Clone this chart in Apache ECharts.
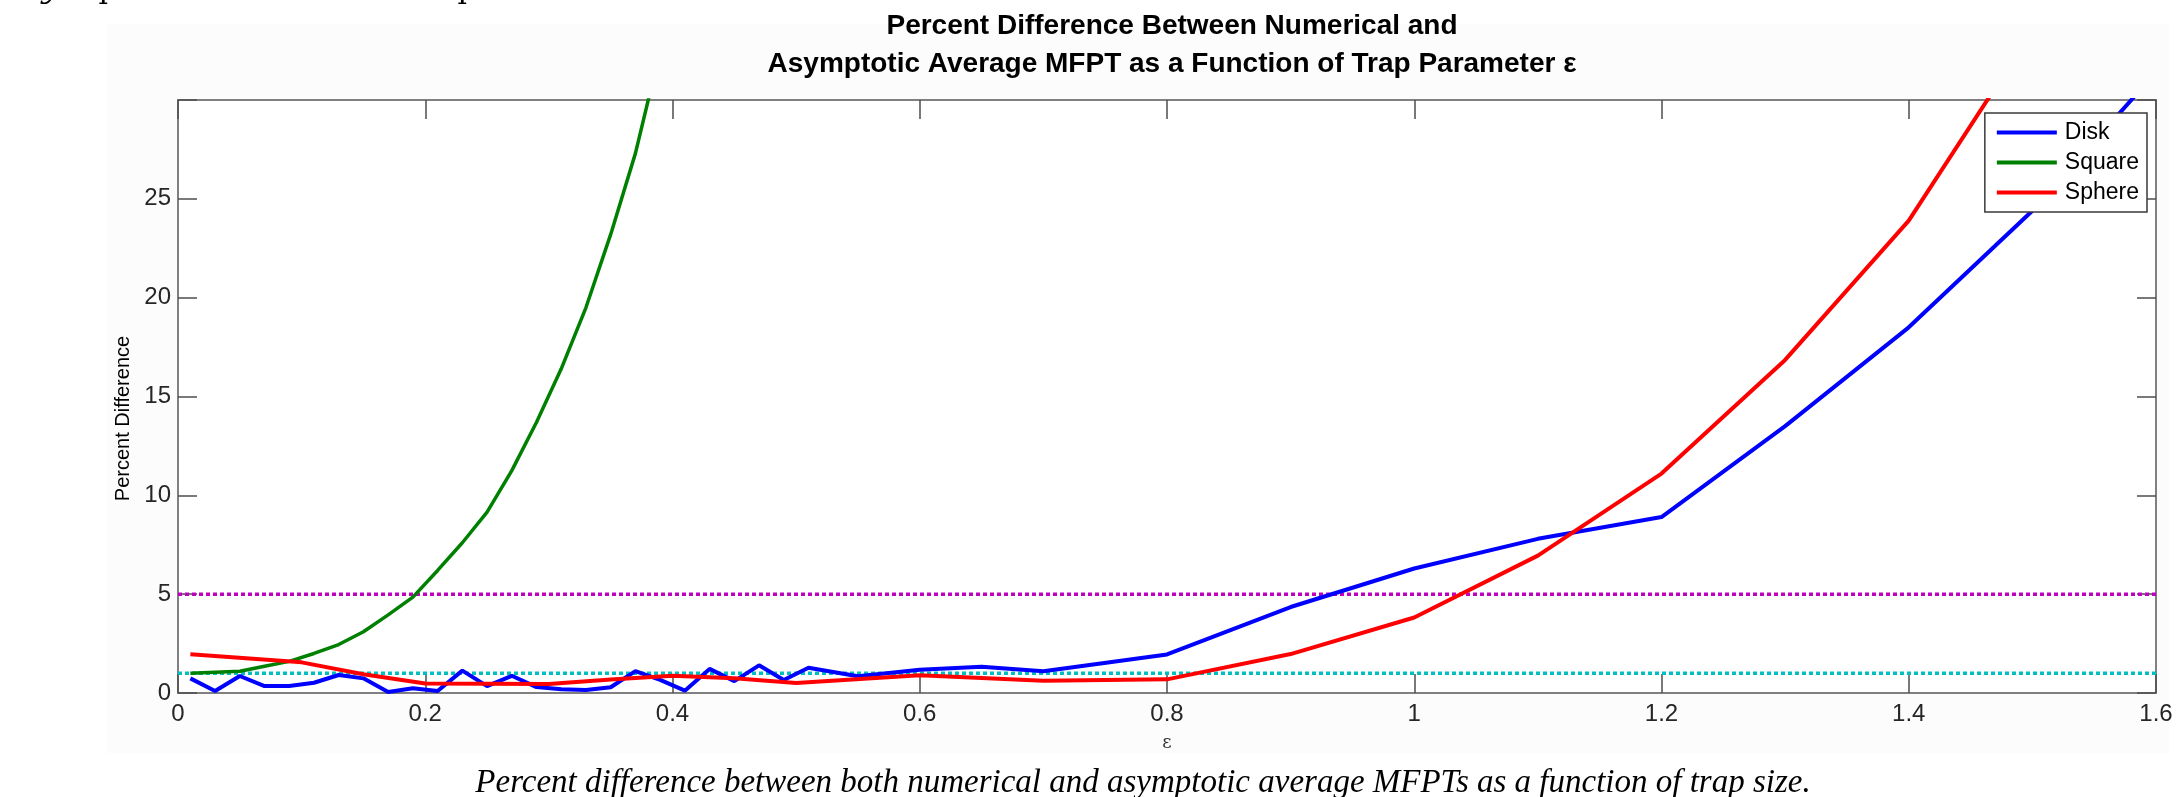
<!DOCTYPE html>
<html>
<head>
<meta charset="utf-8">
<script src="https://cdn.jsdelivr.net/npm/echarts@6/dist/echarts.min.js"></script>
<style>
  html, body { margin: 0; padding: 0; background: #ffffff; }
  #chart { width: 2177px; height: 797px; }
</style>
</head>
<body>
<div id="chart"></div>
<script>
// ---- data ----
const diskEps = [0.01,0.03,0.05,0.07,0.09,0.11,0.13,0.15,0.17,0.19,0.21,0.23,0.25,0.27,0.29,0.31,0.33,0.35,0.37,0.39,0.41,0.43,0.45,0.47,0.49,0.51,0.55,0.6,0.65,0.7,0.8,0.9,1.0,1.1,1.2,1.3,1.4,1.5,1.6];
const diskPct = [0.74,0.10,0.86,0.35,0.35,0.52,0.91,0.74,0.05,0.24,0.10,1.13,0.35,0.87,0.30,0.19,0.15,0.29,1.11,0.66,0.12,1.22,0.60,1.40,0.66,1.28,0.85,1.18,1.33,1.10,1.95,4.35,6.30,7.80,8.90,13.5,18.5,24.4,31.4];

const squareEps = [0.01,0.03,0.05,0.07,0.09,0.11,0.13,0.15,0.17,0.19,0.21,0.23,0.25,0.27,0.29,0.31,0.33,0.35,0.37,0.39];
const squarePct = [1.00,1.05,1.10,1.35,1.60,2.00,2.45,3.10,3.95,4.85,6.20,7.60,9.15,11.25,13.7,16.4,19.5,23.2,27.3,32.5];

const sphereEps = [0.01,0.1,0.15,0.2,0.3,0.35,0.4,0.45,0.5,0.6,0.7,0.8,0.9,1.0,1.1,1.2,1.3,1.4,1.5];
const spherePct = [1.96,1.55,0.95,0.48,0.46,0.68,0.87,0.75,0.50,0.90,0.62,0.69,1.97,3.82,6.95,11.1,16.85,23.9,33.5];

const thresholdLevels = [1, 5];
const thresholdColors = ['#00bfbf', '#bf00bf'];

const xTickLabels = ['0','0.2','0.4','0.6','0.8','1','1.2','1.4','1.6'];
const yTickLabels = ['0','5','10','15','20','25'];

const seriesNames = ['Disk', 'Square', 'Sphere'];
const seriesColors = ['#0000ff', '#008000', '#ff0000'];

const titleText = 'Percent Difference Between Numerical and\nAsymptotic Average MFPT as a Function of Trap Parameter ε';
const captionText = 'Percent difference between both numerical and asymptotic average MFPTs as a function of trap size.';

// ---- build ----
const pairs = (xs, ys) => xs.map((x, i) => [x, ys[i]]);
const SANS = '"Liberation Sans", Arial, sans-serif';

const chart = echarts.init(document.getElementById('chart'), null, { renderer: 'canvas' });

const axisLineStyle = { color: '#808080', width: 2 };
const tickStyle = { color: '#4d4d4d', width: 1.5 };

const thresholdSeries = thresholdLevels.map((lv, i) => ({
  type: 'line',
  name: 'thr' + lv,
  data: [[0, lv], [1.6, lv]],
  symbol: 'none',
  silent: true,
  z: 1,
  lineStyle: { color: thresholdColors[i], width: 3.5, type: [4, 3] }
}));

const dataSets = [pairs(diskEps, diskPct), pairs(squareEps, squarePct), pairs(sphereEps, spherePct)];
const widths = [4, 3.5, 4];
const dataSeries = seriesNames.map((n, i) => ({
  type: 'line',
  name: n,
  data: dataSets[i],
  symbol: 'none',
  clip: true,
  z: 3,
  itemStyle: { color: seriesColors[i] },
  lineStyle: { color: seriesColors[i], width: widths[i] }
}));

chart.setOption({
  animation: false,
  backgroundColor: '#ffffff',
  title: {
    text: titleText,
    left: 1167,
    textAlign: 'center',
    top: 2,
    textStyle: { fontFamily: SANS, fontSize: 28, fontWeight: 'bold', color: '#000', lineHeight: 38 }
  },
  legend: {
    data: seriesNames,
    orient: 'vertical',
    right: 30,
    top: 113,
    icon: 'rect',
    itemWidth: 60,
    itemHeight: 4,
    itemGap: 7,
    padding: [8, 8, 8, 12],
    backgroundColor: '#ffffff',
    borderColor: '#3a3a3a',
    borderWidth: 1.5,
    borderRadius: 0,
    textStyle: { fontFamily: SANS, fontSize: 23, color: '#000', lineHeight: 22, padding: [0, 0, 0, 3] }
  },
  grid: {
    left: 178, right: 21, top: 100, bottom: 104,
    show: true, backgroundColor: '#ffffff', borderWidth: 0
  },
  xAxis: [
    {
      type: 'value', min: 0, max: 1.6, interval: 0.2,
      position: 'bottom',
      name: 'ε', nameLocation: 'middle', nameGap: 41,
      nameTextStyle: { fontFamily: '"DejaVu Serif", serif', fontSize: 18, color: '#333' },
      axisLine: { show: true, onZero: false, lineStyle: axisLineStyle },
      axisTick: { show: true, inside: true, length: 19, lineStyle: tickStyle },
      axisLabel: {
        margin: 9, fontFamily: SANS, fontSize: 24, color: '#262626',
        formatter: (v) => xTickLabels[Math.round(v / 0.2)]
      },
      splitLine: { show: false }
    },
    {
      type: 'value', min: 0, max: 1.6, interval: 0.2,
      position: 'top',
      axisLine: { show: true, onZero: false, lineStyle: axisLineStyle },
      axisTick: { show: true, inside: true, length: 19, lineStyle: tickStyle },
      axisLabel: { show: false },
      splitLine: { show: false }
    }
  ],
  yAxis: [
    {
      type: 'value', min: 0, max: 30, interval: 5,
      position: 'left',
      name: 'Percent Difference', nameLocation: 'middle', nameGap: 45,
      nameTextStyle: { fontFamily: SANS, fontSize: 20, color: '#000', padding: [0, 44, 0, 0] },
      axisLine: { show: true, onZero: false, lineStyle: axisLineStyle },
      axisTick: { show: true, inside: true, length: 19, lineStyle: tickStyle },
      axisLabel: {
        margin: 7, fontFamily: SANS, fontSize: 24, color: '#262626',
        formatter: (v) => { const i = Math.round(v / 5); return i < yTickLabels.length ? yTickLabels[i] : ''; }
      },
      splitLine: { show: false }
    },
    {
      type: 'value', min: 0, max: 30, interval: 5,
      position: 'right',
      axisLine: { show: true, onZero: false, lineStyle: axisLineStyle },
      axisTick: { show: true, inside: true, length: 19, lineStyle: tickStyle },
      axisLabel: { show: false },
      splitLine: { show: false }
    }
  ],
  graphic: [
    {
      type: 'rect', z: -10, silent: true,
      shape: { x: 107, y: 24, width: 2062, height: 729 },
      style: { fill: '#fcfcfc' }
    },
    {
      type: 'text', silent: true,
      x: 1143, y: 783,
      style: { text: captionText, font: 'italic 33px "Liberation Serif"', align: 'center', verticalAlign: 'middle', fill: '#000' }
    },
    {
      type: 'text', silent: true, x: 50, y: 5,
      style: { text: 'y', font: 'italic 30px "DejaVu Serif"', align: 'center', verticalAlign: 'bottom', fill: '#000' }
    },
    {
      type: 'text', silent: true, x: 108, y: 5,
      style: { text: 'p', font: '30px "DejaVu Serif"', align: 'center', verticalAlign: 'bottom', fill: '#000' }
    },
    {
      type: 'text', silent: true, x: 467, y: 5,
      style: { text: 'p', font: '30px "DejaVu Serif"', align: 'center', verticalAlign: 'bottom', fill: '#000' }
    }
  ],
  series: thresholdSeries.concat(dataSeries)
});
</script>
</body>
</html>
